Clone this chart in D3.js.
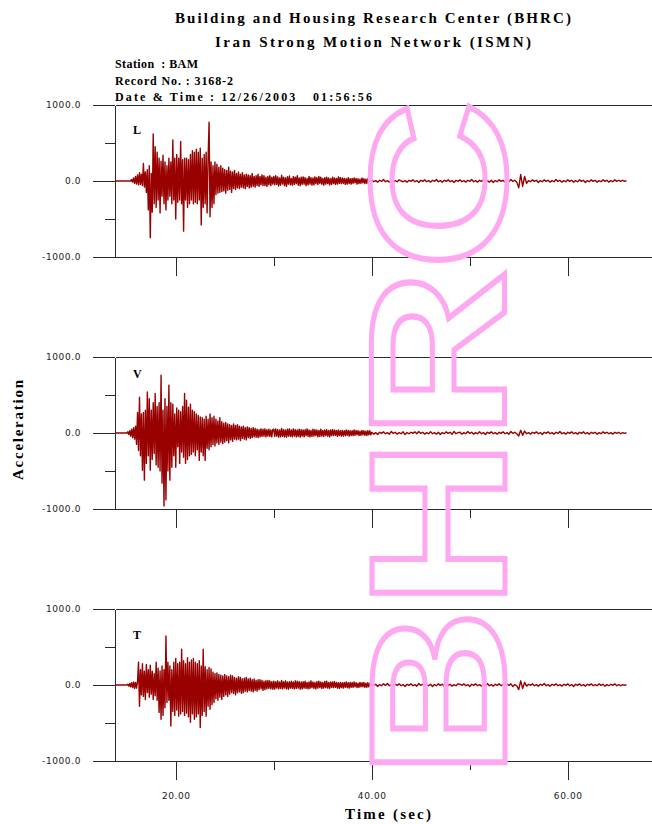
<!DOCTYPE html>
<html lang="en">
<head>
<meta charset="utf-8">
<title>BHRC - BAM accelerogram</title>
<script src="https://cdn.jsdelivr.net/npm/d3@7"></script>
<style>
  body { margin: 0; background: #fff; }
  .axis path, .axis line { fill: none; stroke: #2a2a2a; shape-rendering: crispEdges; }
  .axis text { font-family: "DejaVu Sans", sans-serif; font-size: 9px; fill: #222; letter-spacing: 0.6px; }
  .hdr { font-family: "Liberation Serif", "Times New Roman", serif; font-weight: bold; fill: #000; }
</style>
</head>
<body>
<script>
// record info
var titleLines = ["Building and Housing Research Center (BHRC)", "Iran Strong Motion Network (ISMN)"];
var infoLines = ["Station  : BAM", "Record No. : 3168-2", "Date & Time : 12/26/2003   01:56:56"];
var components = ["L", "V", "T"];

var yTicks = [-1000, 0, 1000];
var yMinor = [-500, 500];
var xTicks = [20, 40, 60];
var xMinor = [30, 50];

// samples: strong part every 0.1 s (13.8 - 40 s), tail every 0.2 s
var t0 = 13.8;
var dtStrong = 0.1;
var dtTail = 0.2;

var strongL = [0,0,0,0,0,0,0,0,0,0,0,0,0,0,0,0,0,
  20,-15,40,-30,60,-40,80,-50,110,-45,90,-60,
  230,-80,120,-150,
  150,-380,200,-745,100,
  -410,620,-300,450,-350,
  380,-250,300,-420,260,-200,340,-300,250,-380,
  200,-250,300,-200,250,-300,540,-250,300,-500,
  350,-280,300,-250,520,-300,280,-660,300,-250,
  300,-350,280,-300,350,-250,400,-300,380,-280,
  420,-300,380,-250,430,-580,300,-350,350,-300,
  380,-420,300,775,-470,
  250,-350,200,-300,250,
  -180,220,-160,180,-150,200,-140,170,-130,150,
  -160,140,-120,180,-110,130,-150,120,-100,140,
  -110,100,-90,120,-100,90,-80,110,-90,80,
  -100,90,-70,80,-90,70,-80,100,-70,60,
  -80,70,-60,90,-70,60,-50,80,-60,70,
  -60,50,-70,60,-50,70,-60,50,-40,
  60,-50,70,-45,55,-65,40,-55,75,-40,
  50,-60,45,-70,55,-40,65,-50,35,-55,
  60,-45,50,-35,70,-55,40,-60,50,-45,
  55,-40,45,-60,35,-50,60,-40,45,-55,
  40,-50,55,-35,45,-45,60,-30,50,-40,
  35,-55,45,-40,50,-35,40,-50,30,-45,
  50,-35,40,-45,35,-40,55,-30,45,-35,
  40,-30,35,-45,30,-40,45,-35,30,-40,
  35,-30,40,-25,35,-40,30,-35,25,-30,
  40,-25,30,-35,25,-30,35,-20,30,-25];

var tailL = [15,-10,5,-15,10,-5,20,-10,5,-15,
  10,-20,5,-10,15,0,-10,5,-15,10,
  -5,15,-10,5,-20,10,-5,15,-10,5,
  -15,10,-5,20,-10,5,-15,10,-5,15,
  -10,5,-20,10,-5,
  15,-10,5,-15,10,-5,20,-10,5,-15,
  10,-5,15,-10,5,-15,10,-20,5,-10,
  15,-5,10,-15,5,-10,20,-5,10,-15,
  -90,85,-70,60,-30,
  5,-10,15,-5,10,-20,5,-10,15,-5,
  10,-15,5,-10,20,-5,10,-15,5,-10,
  15,-5,10,-15,5,-10,15,-5,10,-20,
  5,-10,15,-5,10,-15,5,-10,15,-5,
  10,-15,5,-10,15,-5,10,-5,10,-5,
  5];

var strongV = [0,0,0,0,0,0,0,0,0,0,0,0,0,
  15,-20,30,-40,50,-60,70,-80,90,
  -150,270,-230,470,-300,250,-490,270,
  -620,300,-400,540,
  -300,450,-490,300,-350,400,-270,520,-420,350,
  -450,400,-500,760,
  -660,300,-960,450,
  -880,350,-500,
  630,-620,400,-450,
  380,-300,250,-450,330,-180,300,-400,280,-250,350,
  -320,520,-400,430,-350,340,-300,380,
  -280,300,-250,280,-300,250,-220,230,
  -360,210,-250,200,-300,180,-360,220,-200,180,-220,
  250,-180,200,-150,220,-170,180,-130,160,-150,200,-120,150,-140,130,
  -120,140,-100,120,-130,110,-90,100,-110,120,-80,100,-90,110,-80,90,-100,80,-70,90,-80,70,-90,80,-60,70,
  -70,60,-60,70,-50,60,-55,50,-60,45,-50,55,-45,50,-40,55,-50,45,-40,50,-45,40,-50,45,
  50,-45,55,-40,45,-55,40,-50,60,-45,
  45,-50,40,-55,50,-40,55,-45,40,-50,
  55,-40,45,-50,40,-45,50,-55,45,-40,
  40,-50,45,-35,55,-45,40,-50,35,-45,
  50,-40,45,-35,40,-50,35,-45,50,-40,
  35,-45,40,-35,45,-40,35,-50,40,-35,
  45,-35,40,-30,35,-45,40,-35,30,-40,
  35,-40,30,-35,40,-30,35,-40,30,-35,
  30,-35,40,-30,35,-25,30,-35,25,-30,
  35,-25,30,-30,25,-35,30,-25,30,-25];

var tailV = [10,-15,5,-20,10,-5,15,-10,5,-15,
  20,-5,10,-15,5,-10,15,-20,5,-10,
  10,-5,15,-10,20,-5,10,-15,5,-10,
  15,-10,5,-15,10,-20,5,-10,15,-5,
  10,-15,20,-10,5,
  10,-15,5,-10,20,-5,10,-15,5,-10,
  15,-10,5,-20,10,-5,15,-10,5,-15,
  10,-5,15,-10,5,-15,20,-5,10,-10,
  -40,35,-30,25,-10,
  5,-15,10,-5,15,-10,5,-20,10,-5,
  15,-10,5,-15,10,-5,20,-10,5,-15,
  10,-5,15,-10,5,-15,10,-5,15,-10,
  5,-15,10,-5,10,-15,5,-10,15,-5,
  10,-10,5,-15,10,-5,10,-10,5,-5,
  5];

var strongT = [0,0,0,0,0,0,0,0,0,0,0,0,0,
  10,-15,20,-25,30,-35,40,-45,35,-40,45,
  300,-280,200,-130,
  280,-150,180,-190,270,-100,200,-160,260,-120,180,-190,150,-140,
  300,-200,220,
  -360,185,-450,250,-400,200,-300,
  645,-230,300,-200,
  250,-540,200,-350,300,-400,
  350,-330,280,-410,300,-380,470,-350,320,-400,280,
  -370,360,-420,300,-490,330,-380,350,-450,300,-420,280,-380,320,
  -560,250,-400,
  470,-350,240,-410,200,-280,230,-320,210,-260,
  170,-230,150,-180,160,-200,140,-160,130,-190,120,-150,
  140,-130,120,-150,110,-120,130,-100,120,-110,100,-130,90,-100,110,-90,100,-110,
  80,-100,90,-80,100,-90,80,-70,90,-80,70,-90,80,-70,60,-80,70,
  -60,70,-50,60,-70,50,-60,55,-50,60,-45,55,-50,45,-55,
  50,-55,45,-40,55,-50,40,-45,60,-50,
  45,-40,55,-50,40,-55,45,-40,50,-45,
  40,-50,55,-45,50,-40,45,-55,40,-50,
  45,-40,50,-45,35,-50,40,-45,55,-35,
  40,-45,35,-50,45,-40,50,-35,40,-45,
  35,-40,45,-35,50,-40,35,-45,40,-30,
  40,-35,45,-30,35,-40,30,-45,35,-35,
  30,-40,35,-30,40,-35,30,-40,35,-30,
  35,-30,40,-25,30,-35,25,-30,35,-25,
  30,-25,35,-30,25,-30,30,-25,25,-30];

var tailT = [15,-5,10,-20,5,-10,15,-5,20,-10,
  5,-15,10,-5,15,-10,5,-20,10,-5,
  15,-10,5,-15,20,-5,10,-15,5,-10,
  10,-20,5,-10,15,-5,10,-15,20,-5,
  10,-15,5,-10,15,
  10,-5,15,-10,5,-20,10,-5,15,-10,
  5,-15,10,-5,20,-10,5,-15,10,-5,
  15,-10,5,-15,10,-5,15,-20,5,-10,
  -60,55,-45,35,-15,
  10,-5,15,-10,5,-15,10,-5,20,-10,
  5,-15,10,-5,15,-10,5,-15,10,-5,
  15,-10,5,-20,10,-5,15,-10,5,-15,
  10,-5,15,-10,5,-10,15,-5,10,-15,
  5,-10,10,-5,15,-10,5,-10,5,-5,
  5];

var strongData = [strongL, strongV, strongT];
var tailData = [tailL, tailV, tailT];

var w = 652, h = 824;
var panelTops = [105, 357, 609];
var panelH = 152;

var svg = d3.select("body").append("svg")
  .attr("width", w)
  .attr("height", h);

var xScale = d3.scaleLinear().domain([13.8, 68.6]).range([115, 652]);

// header
svg.selectAll("text.title")
  .data(titleLines)
  .enter()
  .append("text")
  .attr("class", "hdr title")
  .attr("x", 373)
  .attr("y", function(d, i) { return 23 + i * 24; })
  .attr("text-anchor", "middle")
  .attr("font-size", "15px")
  .attr("textLength", function(d, i) { return i == 0 ? 396 : 316; })
  .attr("lengthAdjust", "spacing")
  .text(function(d) { return d; });

svg.selectAll("text.info")
  .data(infoLines)
  .enter()
  .append("text")
  .attr("class", "hdr info")
  .attr("x", 115)
  .attr("y", function(d, i) { return 68 + i * 16.5; })
  .attr("font-size", "12px")
  .attr("xml:space", "preserve")
  .style("white-space", "pre")
  .attr("textLength", function(d, i) { return [83, 118, 257][i]; })
  .attr("lengthAdjust", "spacing")
  .text(function(d) { return d; });

var line = d3.line()
  .x(function(d) { return xScale(d[0]); })
  .y(function(d) { return d[1]; });

components.forEach(function(comp, k) {
  var top = panelTops[k];
  var yScale = d3.scaleLinear().domain([-1000, 1000]).range([top + panelH, top]);
  var g = svg.append("g");

  // top border
  g.append("g")
    .attr("class", "axis")
    .attr("transform", "translate(0," + top + ")")
    .call(d3.axisTop(xScale).tickValues([]).tickSizeOuter(0));

  // bottom time axis
  var xAxis = d3.axisBottom(xScale)
    .tickValues(xTicks)
    .tickSize(19)
    .tickSizeOuter(0)
    .tickPadding(13)
    .tickFormat(k == 2 ? function(d) { return d.toFixed(2); } : "");
  g.append("g")
    .attr("class", "axis")
    .attr("transform", "translate(0," + (top + panelH) + ")")
    .call(xAxis);
  g.append("g")
    .attr("class", "axis")
    .attr("transform", "translate(0," + (top + panelH) + ")")
    .call(d3.axisBottom(xScale).tickValues(xMinor).tickSize(9).tickFormat(""))
    .select(".domain").remove();

  // acceleration axis
  g.append("g")
    .attr("class", "axis")
    .attr("transform", "translate(115,0)")
    .call(d3.axisLeft(yScale)
      .tickValues(yTicks)
      .tickSize(22)
      .tickSizeOuter(0)
      .tickPadding(12)
      .tickFormat(function(d) { return d.toFixed(1); }));
  g.append("g")
    .attr("class", "axis")
    .attr("transform", "translate(115,0)")
    .call(d3.axisLeft(yScale).tickValues(yMinor).tickSize(10).tickFormat(""))
    .select(".domain").remove();

  // trace
  var strong = strongData[k];
  var tail = tailData[k];
  var tailT0 = t0 + strong.length * dtStrong;
  var pts = strong.map(function(v, i) { return [t0 + i * dtStrong, yScale(v)]; })
    .concat(tail.map(function(v, j) { return [tailT0 + j * dtTail, yScale(v)]; }));

  g.append("path")
    .datum(pts)
    .attr("d", line)
    .attr("fill", "none")
    .attr("stroke", "#990000")
    .attr("stroke-width", 1.4)
    .attr("stroke-linejoin", "round");

  g.append("text")
    .attr("class", "hdr")
    .attr("x", 133)
    .attr("y", top + [29, 21, 30][k])
    .attr("font-size", "12px")
    .text(comp);
});

// axis titles
svg.append("text")
  .attr("class", "hdr")
  .attr("transform", "translate(23,430) rotate(-90)")
  .attr("text-anchor", "middle")
  .attr("font-size", "15px")
  .attr("textLength", 100)
  .text("Acceleration");

svg.append("text")
  .attr("class", "hdr")
  .attr("x", 388)
  .attr("y", 819)
  .attr("text-anchor", "middle")
  .attr("font-size", "15px")
  .attr("textLength", 86)
  .text("Time (sec)");

// watermark
svg.append("text")
  .attr("transform", "translate(505,778) rotate(-90)")
  .attr("font-family", "Liberation Sans, Arial, sans-serif")
  .attr("font-weight", "bold")
  .attr("font-size", 193)
  .attr("textLength", 678)
  .attr("lengthAdjust", "spacingAndGlyphs")
  .attr("fill", "none")
  .attr("stroke", "#ffa8f2")
  .attr("stroke-width", 5)
  .text("BHRC");
</script>
</body>
</html>
